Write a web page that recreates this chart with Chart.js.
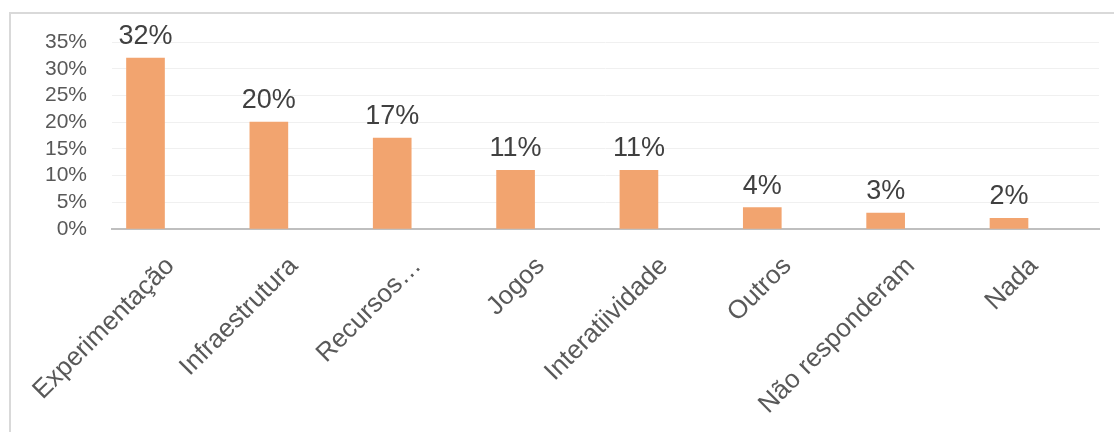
<!DOCTYPE html>
<html>
<head>
<meta charset="utf-8">
<script src="https://cdn.jsdelivr.net/npm/chart.js@4.4.1/dist/chart.umd.min.js"></script>
<style>
    html, body { margin: 0; padding: 0; background: #fff; overflow: hidden; }
    #wrap { position: relative; width: 1114px; height: 432px; }
    #moldura { position: absolute; left: 9px; top: 12px; width: 1200px; height: 500px; border: 2px solid #d9d9d9; box-sizing: border-box; }
    canvas { position: absolute; left: 0; top: 0; }
</style>
</head>
<body>
<div id="wrap">
    <div id="moldura"></div>
    <canvas id="grafico" width="1114" height="432"></canvas>
</div>
<script>
// categorias e valores (%)
const categorias = ['Experimentação', 'Infraestrutura', 'Recursos…', 'Jogos', 'Interatiividade', 'Outros', 'Não responderam', 'Nada'];
const valores = [32, 20, 17, 11, 11, 4, 3, 2];
const ticksY = [0, 5, 10, 15, 20, 25, 30, 35];

const FONTE = "'Liberation Sans', Arial, sans-serif";

// rótulos de dados acima das barras
const rotulosPlugin = {
    id: 'rotulos',
    afterDatasetsDraw(chart) {
        const ctx = chart.ctx;
        const meta = chart.getDatasetMeta(0);
        ctx.save();
        ctx.font = '27px ' + FONTE;
        ctx.fillStyle = '#404040';
        ctx.textAlign = 'center';
        ctx.textBaseline = 'alphabetic';
        meta.data.forEach((bar, i) => {
            ctx.fillText(valores[i] + '%', bar.x, bar.y - 14);
        });
        ctx.restore();
    }
};

const ctx = document.getElementById('grafico').getContext('2d');
new Chart(ctx, {
    type: 'bar',
    data: {
        datasets: [{
            data: valores.map((v, i) => ({ x: i, y: v })),
            backgroundColor: '#f2a46f',
            borderWidth: 0,
            barThickness: 38
        }]
    },
    options: {
        responsive: false,
        animation: false,
        layout: { padding: { top: 42, right: 15, left: 0, bottom: 0 } },
        plugins: { legend: { display: false }, tooltip: { enabled: false } },
        scales: {
            x: {
                type: 'linear',
                offset: false,
                bounds: 'data',
                afterBuildTicks: (scale) => {
                    scale.ticks = categorias.map((c, i) => ({ value: i }));
                    scale.min = -0.2716;
                    scale.max = 7.7296;
                },
                afterFit: (scale) => {
                    scale.height = 203;
                    scale.paddingLeft = 0;
                    scale.paddingRight = 0;
                },
                grid: { display: false },
                border: { display: true, color: '#bfbfbf', width: 2 },
                ticks: {
                    autoSkip: false,
                    maxRotation: 45,
                    minRotation: 45,
                    labelOffset: 25,
                    padding: 14,
                    color: '#595959',
                    font: { size: 26, family: FONTE },
                    callback: (v) => categorias[v]
                }
            },
            y: {
                min: 0,
                max: 35,
                afterBuildTicks: (scale) => { scale.ticks = ticksY.map(v => ({ value: v })); },
                afterFit: (scale) => { scale.width = 112; },
                grid: { color: '#f0f0f0', lineWidth: 1, drawTicks: false },
                border: { display: false },
                ticks: {
                    autoSkip: false,
                    padding: 25,
                    color: '#595959',
                    font: { size: 21, family: FONTE },
                    callback: (v) => v + '%'
                }
            }
        }
    },
    plugins: [rotulosPlugin]
});
</script>
</body>
</html>
